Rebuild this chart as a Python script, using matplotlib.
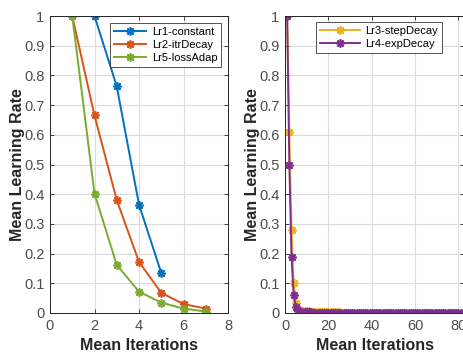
import matplotlib
matplotlib.use("Agg")
import matplotlib.pyplot as plt

plt.rcParams['font.family'] = ['Liberation Sans', 'DejaVu Sans']

# Left panel data
x_lr1 = [1, 2, 3, 4, 5]
y_lr1 = [1.0, 1.0, 0.763, 0.365, 0.135]
x_lr2 = [1, 2, 3, 4, 5, 6, 7]
y_lr2 = [1.0, 0.665, 0.38, 0.172, 0.068, 0.030, 0.015]
x_lr5 = [1, 2, 3, 4, 5, 6, 7]
y_lr5 = [1.0, 0.402, 0.162, 0.072, 0.035, 0.015, 0.005]

# Right panel data
y_lr3 = [1.0, 0.61, 0.28, 0.10, 0.035, 0.015, 0.010, 0.008, 0.007, 0.006,
         0.006, 0.005, 0.005, 0.005, 0.004, 0.004, 0.004, 0.004, 0.003, 0.003,
         0.003, 0.003, 0.003, 0.003, 0.003]
x_lr3 = list(range(1, len(y_lr3) + 1))
y_lr4 = [1.0, 0.50, 0.19, 0.06, 0.020, 0.008, 0.004, 0.003, 0.002, 0.002,
         0.002, 0.002, 0.001, 0.001, 0.001, 0.001, 0.001, 0.001, 0.001, 0.001,
         0.001, 0.001, 0.001, 0.001, 0.001, 0.001, 0.001, 0.001, 0.001, 0.001,
         0.001, 0.001, 0.001, 0.001, 0.001, 0.001, 0.001, 0.001, 0.001, 0.001,
         0.001, 0.001, 0.001, 0.001, 0.001, 0.001, 0.001, 0.001, 0.001, 0.001,
         0.001, 0.001, 0.001, 0.001, 0.001, 0.001, 0.001, 0.001, 0.001, 0.001,
         0.001, 0.001, 0.001, 0.001, 0.001, 0.001, 0.001, 0.001, 0.001, 0.001,
         0.001, 0.001, 0.001, 0.001, 0.001, 0.001, 0.001, 0.001, 0.001, 0.001,
         0.001, 0.001, 0.001, 0.001]
x_lr4 = list(range(1, len(y_lr4) + 1))

left_xticks = [0, 2, 4, 6, 8]
right_xticks = [0, 20, 40, 60, 80]
yticks = [0, 0.1, 0.2, 0.3, 0.4, 0.5, 0.6, 0.7, 0.8, 0.9, 1]
ytick_labels = ['0', '0.1', '0.2', '0.3', '0.4', '0.5', '0.6', '0.7', '0.8', '0.9', '1']

C_BLUE = '#0072BD'
C_ORANGE = '#D95319'
C_YELLOW = '#EDB120'
C_PURPLE = '#7E2F8E'
C_GREEN = '#77AC30'
AX_COL = '#262626'
MK = (8, 2, 0)

fig = plt.figure(figsize=(4.63, 3.52), dpi=100)
W, H = 463, 352
wL = 178.0
wR = 179.0
axL = fig.add_axes([50 / W, 1 - 313 / H, wL / W, 297 / H])
axR = fig.add_axes([285 / W, 1 - 313 / H, wR / W, 297 / H])


def style(ax, xt, xlim, w):
    ax.set_xlim(*xlim)
    ax.set_ylim(0, 1)
    ax.set_xticks(xt)
    ax.set_yticks(yticks)
    ax.set_yticklabels(ytick_labels)
    ax.grid(True, color='#dcdcdc', linewidth=0.8)
    ax.set_axisbelow(True)
    ax.tick_params(direction='in', length=3, width=0.6, colors=AX_COL,
                   labelsize=10.5, top=True, right=True, pad=4)
    for t in ax.get_xticklabels() + ax.get_yticklabels():
        t.set_color('#4d4d4d')
    for s in ax.spines.values():
        s.set_color(AX_COL)
        s.set_linewidth(0.7)
    ax.set_xlabel('Mean Iterations', fontsize=11.5, fontweight='bold', color=AX_COL)
    ax.set_ylabel('Mean Learning Rate', fontsize=11.5, fontweight='bold', color=AX_COL)
    ax.xaxis.set_label_coords(0.5, -25 / 297)
    ax.yaxis.set_label_coords(-25 / w, 0.5)


lw = 1.4
ms = 6
mew = 1.2
axL.plot(x_lr1, y_lr1, color=C_BLUE, marker=MK, lw=lw, ms=ms, mew=mew, label='Lr1-constant')
axL.plot(x_lr2, y_lr2, color=C_ORANGE, marker=MK, lw=lw, ms=ms, mew=mew, label='Lr2-itrDecay')
axL.plot(x_lr5, y_lr5, color=C_GREEN, marker=MK, lw=lw, ms=ms, mew=mew, label='Lr5-lossAdap')
style(axL, left_xticks, (0, 8), wL)
leg = axL.legend(loc='upper right', fontsize=8, frameon=True, fancybox=False,
                 borderpad=0.35, handlelength=2.9, labelspacing=0.3, borderaxespad=0.6,
                 handletextpad=0.5)
leg.get_frame().set_edgecolor(AX_COL)
leg.get_frame().set_linewidth(0.7)

axR.plot(x_lr3, y_lr3, color=C_YELLOW, marker=MK, lw=lw, ms=ms, mew=mew, label='Lr3-stepDecay')
axR.plot(x_lr4, y_lr4, color=C_PURPLE, marker=MK, lw=lw, ms=ms, mew=mew, label='Lr4-expDecay')
style(axR, right_xticks, (0, 82.6), wR)
legR = axR.legend(loc='upper left', bbox_to_anchor=(31 / wR, 1 - 6 / 297), fontsize=8,
                  frameon=True, fancybox=False, borderpad=0.35, handlelength=3.6,
                  labelspacing=0.3, borderaxespad=0.0, handletextpad=0.5)
legR.get_frame().set_edgecolor(AX_COL)
legR.get_frame().set_linewidth(0.7)

fig.savefig('out.png', dpi=100)
